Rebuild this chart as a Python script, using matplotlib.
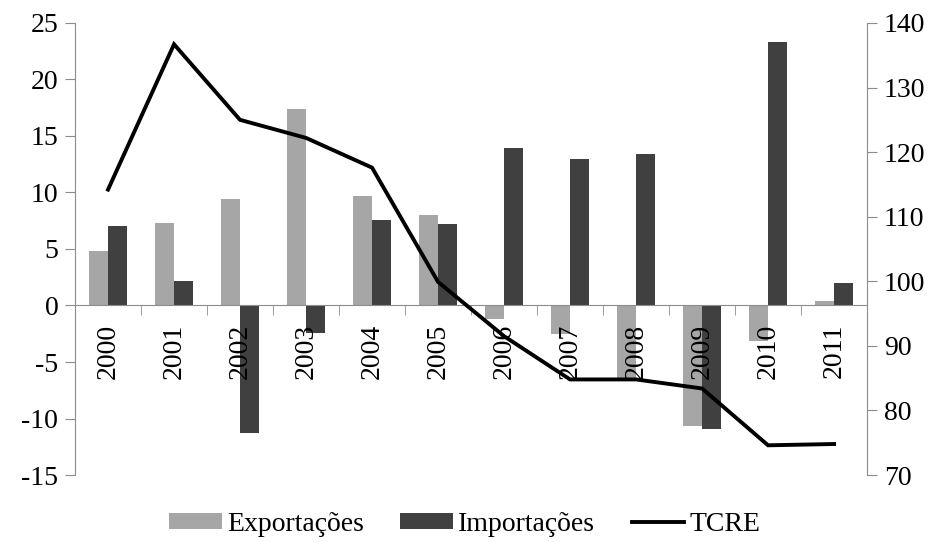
import numpy as np
import matplotlib.pyplot as plt

plt.rcParams["font.family"] = ["Liberation Serif", "DejaVu Serif"]
plt.rcParams["axes.unicode_minus"] = False

anos = ["2000", "2001", "2002", "2003", "2004", "2005",
        "2006", "2007", "2008", "2009", "2010", "2011"]
exportacoes = [4.8, 7.3, 9.4, 17.4, 9.7, 8.0, -1.2, -2.5, -6.5, -10.7, -3.1, 0.4]
importacoes = [7.0, 2.2, -11.3, -2.4, 7.6, 7.2, 13.9, 13.0, 13.4, -10.9, 23.3, 2.0]
tcre = [114.2, 136.7, 125.0, 122.2, 117.6, 99.9, 91.5, 84.8, 84.8, 83.4, 74.6, 74.8]

cinza = "#8c8c8c"
fs = 20

fig = plt.figure(figsize=(9.39, 5.42), dpi=100)
ax = fig.add_axes([0.0799, 0.1236, 0.8435, 0.834])
ax2 = ax.twinx()

x = np.arange(len(anos)) + 0.5
w = 0.29
b1 = ax.bar(x - w / 2, exportacoes, w, color="#a6a6a6", label="Exportações", zorder=2)
b2 = ax.bar(x + w / 2, importacoes, w, color="#404040", label="Importações", zorder=2)
l1, = ax2.plot(x, tcre, color="black", lw=2.8, label="TCRE", solid_joinstyle="miter")

ax.set_xlim(0, len(anos))
ax.set_ylim(-15, 25)
ax.set_yticks(range(-15, 26, 5))
ax2.set_ylim(70, 140)
ax2.set_yticks(range(70, 141, 10))

# eixo das categorias na linha do zero, rótulos por cima das barras
ax.set_axisbelow(False)
ax.spines["bottom"].set_position(("data", 0))
ax.spines["top"].set_visible(False)
ax2.spines["top"].set_visible(False)
ax2.spines["bottom"].set_visible(False)
for s in ["bottom", "left"]:
    ax.spines[s].set_color(cinza)
ax2.spines["right"].set_color(cinza)
ax2.spines["left"].set_visible(False)
ax.spines["right"].set_visible(False)

ax.set_xticks(x)
ax.set_xticklabels(anos, rotation=90, fontsize=fs, va="top")
ax.set_xticks(np.arange(1, len(anos)), minor=True)
ax.tick_params(axis="x", which="major", length=0, pad=13)
ax.tick_params(axis="x", which="minor", length=7, direction="out", color=cinza)
ax.tick_params(axis="y", length=7, color=cinza, labelsize=fs, pad=5)
ax2.tick_params(axis="y", length=7, color=cinza, labelsize=fs, pad=5)

ax.set_zorder(1)
ax.patch.set_visible(False)
ax2.set_zorder(2)

fig.legend([b1, b2, l1], ["Exportações", "Importações", "TCRE"],
           loc="center", bbox_to_anchor=(0.495, 0.032), ncol=3, frameon=False,
           fontsize=fs, handlelength=1.9, handleheight=0.5, handletextpad=0.2,
           columnspacing=1.3, borderpad=0.2)

fig.savefig("out.png", dpi=100)
